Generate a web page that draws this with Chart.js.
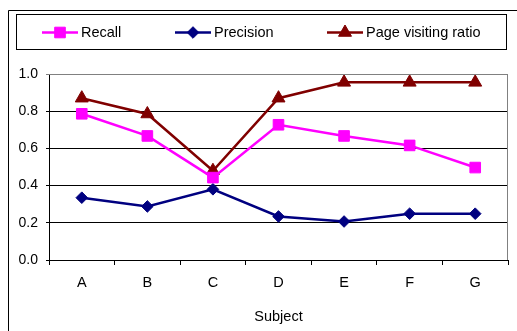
<!DOCTYPE html>
<html>
<head>
<meta charset="utf-8">
<script src="https://cdn.jsdelivr.net/npm/chart.js@4/dist/chart.umd.min.js"></script>
<style>
  html, body { margin: 0; padding: 0; background: #fff; }
  #chart { display: block; }
</style>
</head>
<body>
<canvas id="chart" width="517" height="331"></canvas>
<script>
// --- dados ---
const subjects   = ['A', 'B', 'C', 'D', 'E', 'F', 'G'];
const recall     = [0.786, 0.667, 0.443, 0.727, 0.667, 0.616, 0.497];
const precision  = [0.335, 0.288, 0.380, 0.234, 0.207, 0.249, 0.249];
const pageRatio  = [0.870, 0.785, 0.480, 0.870, 0.955, 0.955, 0.955];
const yTicks     = [0, 0.2, 0.4, 0.6, 0.8, 1.0];

const FONT = 'Liberation Sans, Arial, sans-serif';

const series = [
  { label: 'Recall',              data: recall,    color: '#FF00FF', style: 'rect',     radius: 7.5, width: 2.5 },
  { label: 'Precision',           data: precision, color: '#000080', style: 'rectRot',  radius: 5.8, width: 2.5 },
  { label: 'Page visiting ratio', data: pageRatio, color: '#800000', style: 'triangle', radius: 7.5, width: 2.5 },
];

// posições da legenda (início da amostra de linha)
const legendX = [42, 175, 327];

function drawMarker(ctx, style, x, y, r, color) {
  ctx.save();
  ctx.fillStyle = color;
  ctx.strokeStyle = color;
  ctx.lineWidth = 1;
  ctx.beginPath();
  if (style === 'rect') {
    const s = Math.SQRT1_2 * r;
    ctx.rect(x - s, y - s, 2 * s, 2 * s);
  } else if (style === 'rectRot') {
    ctx.moveTo(x - r, y);
    ctx.lineTo(x, y - r);
    ctx.lineTo(x + r, y);
    ctx.lineTo(x, y + r);
    ctx.closePath();
  } else {
    ctx.moveTo(x, y - r);
    ctx.lineTo(x + Math.sin(Math.PI * 2 / 3) * r, y + r / 2);
    ctx.lineTo(x - Math.sin(Math.PI * 2 / 3) * r, y + r / 2);
    ctx.closePath();
  }
  ctx.fill();
  ctx.stroke();
  ctx.restore();
}

// moldura externa, caixa da legenda e borda cinza da área do gráfico
const framePlugin = {
  id: 'frame',
  beforeDraw(chart) {
    const ctx = chart.ctx;
    ctx.save();
    ctx.fillStyle = '#fff';
    ctx.fillRect(0, 0, chart.width, chart.height);
    ctx.strokeStyle = '#000';
    ctx.lineWidth = 1;
    ctx.beginPath();
    ctx.moveTo(8.5, 331);
    ctx.lineTo(8.5, 10.5);
    ctx.lineTo(517, 10.5);
    ctx.stroke();
    ctx.restore();
  },
  afterDatasetsDraw(chart) {
    const ctx = chart.ctx;
    const a = chart.chartArea;
    ctx.save();
    ctx.strokeStyle = '#808080';
    ctx.lineWidth = 1;
    ctx.beginPath();
    ctx.moveTo(a.left, Math.round(a.top) + 0.5);
    ctx.lineTo(Math.round(a.right) - 0.5, Math.round(a.top) + 0.5);
    ctx.lineTo(Math.round(a.right) - 0.5, a.bottom);
    ctx.stroke();

    // legenda
    ctx.strokeStyle = '#000';
    ctx.strokeRect(16.5, 14.5, 490, 35);
    ctx.font = '14.5px ' + FONT;
    ctx.textBaseline = 'middle';
    ctx.fillStyle = '#000';
    const ly = 32.5;
    series.forEach((s, i) => {
      const x0 = legendX[i];
      ctx.strokeStyle = s.color;
      ctx.lineWidth = s.width;
      ctx.beginPath();
      ctx.moveTo(x0, ly);
      ctx.lineTo(x0 + 36, ly);
      ctx.stroke();
      drawMarker(ctx, s.style, x0 + 18, ly, s.radius, s.color);
      ctx.fillStyle = '#000';
      ctx.fillText(s.label, x0 + 39, ly);
    });
    ctx.restore();
  }
};

new Chart(document.getElementById('chart'), {
  type: 'line',
  data: {
    labels: subjects,
    datasets: series.map(s => ({
      label: s.label,
      data: s.data,
      borderColor: s.color,
      backgroundColor: s.color,
      borderWidth: s.width,
      pointStyle: s.style,
      pointRadius: s.radius,
      pointHoverRadius: s.radius,
      pointBorderWidth: 1,
      pointBackgroundColor: s.color,
      pointBorderColor: s.color,
      tension: 0,
      fill: false,
    }))
  },
  options: {
    responsive: false,
    animation: false,
    devicePixelRatio: 1,
    layout: { padding: { top: 74, right: 9, bottom: 0, left: 0 } },
    plugins: {
      legend: { display: false },
      tooltip: { enabled: false },
    },
    scales: {
      x: {
        offset: true,
        afterFit: (s) => { s.height = 71; },
        grid: { offset: true, drawOnChartArea: false, drawTicks: true, tickLength: 5, color: '#000' },
        border: { color: '#000', width: 1 },
        ticks: { color: '#000', font: { family: FONT, size: 14.5 }, padding: 9, maxRotation: 0 },
        title: { display: true, text: 'Subject', color: '#000', font: { family: FONT, size: 14.5 }, padding: { top: 0, bottom: 5 } },
      },
      y: {
        min: 0,
        max: 1,
        afterFit: (s) => { s.width = 49; },
        afterBuildTicks: (s) => { s.ticks = yTicks.map(v => ({ value: v })); },
        grid: {
          color: (c) => (c.tick && c.tick.value === 1 ? '#808080' : '#000'),
          tickLength: 3,
        },
        border: { color: '#000', width: 1 },
        ticks: {
          color: '#000',
          font: { family: FONT, size: 14 },
          padding: 8,
          callback: (v) => Number(v).toFixed(1),
        },
      },
    },
  },
  plugins: [framePlugin],
});
</script>
</body>
</html>
